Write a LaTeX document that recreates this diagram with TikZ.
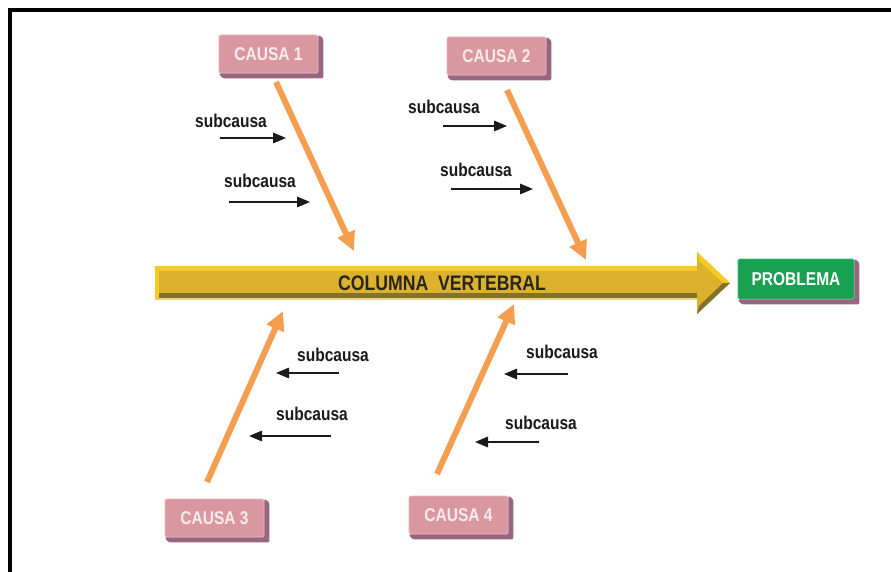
\documentclass[tikz,border=0pt]{standalone}
\usepackage{fontspec}
\setmainfont{Liberation Sans}
\newfontfamily\narrowsans[FakeStretch=0.84]{Liberation Sans}
\usetikzlibrary{arrows.meta,calc}

\definecolor{causeface}{RGB}{217,152,160}
\definecolor{causeedge}{RGB}{236,180,186}
\definecolor{causeshade}{RGB}{152,102,128}
\definecolor{causetext}{RGB}{248,236,238}
\definecolor{probface}{RGB}{26,160,82}
\definecolor{probedge}{RGB}{60,186,110}
\definecolor{boneorange}{RGB}{246,158,80}
\definecolor{spinemain}{RGB}{220,178,44}
\definecolor{spinelight}{RGB}{246,202,34}
\definecolor{spinedark}{RGB}{130,114,46}
\definecolor{spineline}{RGB}{232,212,130}
\definecolor{spinetext}{RGB}{40,36,30}
\definecolor{subink}{RGB}{26,26,26}

\tikzset{
  labelfont/.style={font=\narrowsans\bfseries\fontsize{#1}{#1}\selectfont},
  causebox/.style={fill=causeface, draw=causeedge, line width=0.8pt,
    minimum width=99pt, minimum height=38pt, inner sep=0pt,
    rounded corners=1.5pt, text=causetext, labelfont=18.5},
  probbox/.style={causebox, fill=probface, draw=probedge, text=white,
    minimum width=116pt, minimum height=40pt},
  bevel/.style={fill=causeshade, rounded corners=1.5pt},
  bone/.style={draw=boneorange, line width=6pt,
    -{Triangle[length=19pt,width=18pt]}},
  subtext/.style={text=subink, labelfont=18.5, inner sep=0pt},
  subarrow/.style={draw=subink, line width=1.5pt,
    -{Triangle[length=13pt,width=10.5pt]}}
}

% extruded right/bottom edge of a button-like box
\newcommand\boxbevel[1]{%
  \fill[bevel] (#1.north east) -- ++(5,4) -- ($(#1.south east)+(5,5)$)
    -- ($(#1.south west)+(4,5)$) -- (#1.south west) -- (#1.south east) -- cycle;}

\begin{document}
\begin{tikzpicture}[x=1pt,y=-1pt]
\useasboundingbox (0,0) rectangle (891,572);
\fill[white] (0,0) rectangle (891,572);

% frame (top and left edges)
\draw[line width=4pt, line join=miter] (891,10) -- (10,10) -- (10,572);

% spine body
\fill[spinemain] (155,266) rectangle (697,299);
\fill[spinelight] (155,266) rectangle (697,270.5);
\fill[spinedark] (155,292.5) rectangle (697,298);
\fill[spineline] (155,298) rectangle (697,300);
\fill[spinelight] (155,266) rectangle (159,299);
% spine head
\fill[spinemain] (697,252) -- (730,283) -- (697,314) -- cycle;
\fill[spinelight] (697,252) -- (730,283) -- (723,283) -- (699,260.5) -- cycle;
\fill[spinedark] (697,314) -- (730,283) -- (723,283) -- (699,306) -- cycle;
\node[text=spinetext, labelfont=21] (spine) at (442,283) {COLUMNA\ \ VERTEBRAL};

% effect
\node[probbox] (prob) at (796,279) {PROBLEMA};
\boxbevel{prob}

% causes
\node[causebox] (c1) at (268.5,54) {CAUSA 1};
\node[causebox] (c2) at (496.5,56) {CAUSA 2};
\node[causebox] (c3) at (214.5,518) {CAUSA 3};
\node[causebox] (c4) at (458.5,515) {CAUSA 4};
\boxbevel{c1}
\boxbevel{c2}
\boxbevel{c3}
\boxbevel{c4}

% bones: start below/above each cause, tip on the spine
\coordinate (b1s) at (276,82);  \coordinate (b1e) at (354,251);
\coordinate (b2s) at (507,90);  \coordinate (b2e) at (586,260);
\coordinate (b3s) at (207,482); \coordinate (b3e) at (283,311);
\coordinate (b4s) at (437,474); \coordinate (b4e) at (514,304);
\draw[bone] (b1s) -- (b1e);
\draw[bone] (b2s) -- (b2e);
\draw[bone] (b3s) -- (b3e);
\draw[bone] (b4s) -- (b4e);

% sub-causes of cause 1
\node[subtext] (s11) at (231,121) {subcausa};
\coordinate (a11s) at (220,138); \coordinate (a11e) at (286,138);
\draw[subarrow] (a11s) -- (a11e);
\node[subtext] (s12) at (260,181) {subcausa};
\coordinate (a12s) at (229,202); \coordinate (a12e) at (310,202);
\draw[subarrow] (a12s) -- (a12e);

% sub-causes of cause 2
\node[subtext] (s21) at (444,107) {subcausa};
\coordinate (a21s) at (443,126); \coordinate (a21e) at (507,126);
\draw[subarrow] (a21s) -- (a21e);
\node[subtext] (s22) at (476,170) {subcausa};
\coordinate (a22s) at (451,189); \coordinate (a22e) at (533,189);
\draw[subarrow] (a22s) -- (a22e);

% sub-causes of cause 3
\node[subtext] (s31) at (333,355) {subcausa};
\coordinate (a31s) at (339,373); \coordinate (a31e) at (276,373);
\draw[subarrow] (a31s) -- (a31e);
\node[subtext] (s32) at (312,414) {subcausa};
\coordinate (a32s) at (331,436); \coordinate (a32e) at (249,436);
\draw[subarrow] (a32s) -- (a32e);

% sub-causes of cause 4
\node[subtext] (s41) at (562,352) {subcausa};
\coordinate (a41s) at (568,374); \coordinate (a41e) at (504,374);
\draw[subarrow] (a41s) -- (a41e);
\node[subtext] (s42) at (541,423) {subcausa};
\coordinate (a42s) at (539,442); \coordinate (a42e) at (475,442);
\draw[subarrow] (a42s) -- (a42e);
\end{tikzpicture}
\end{document}
